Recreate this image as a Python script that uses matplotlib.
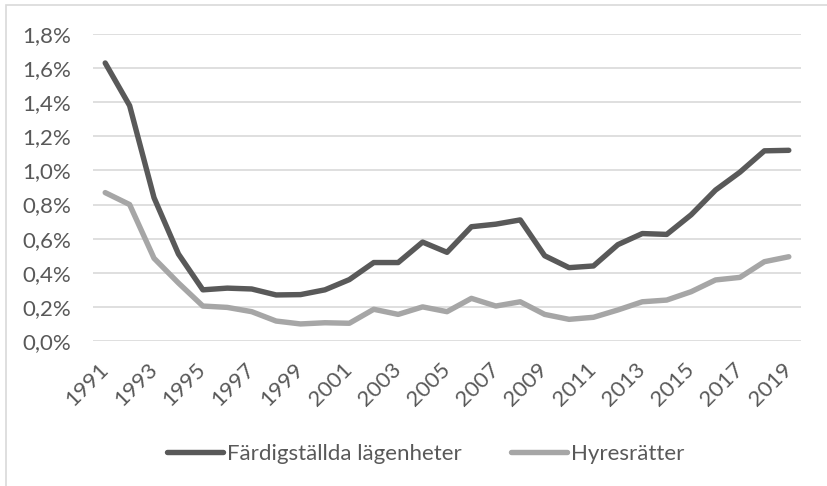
import matplotlib
matplotlib.use("Agg")
import matplotlib.pyplot as plt
from matplotlib.ticker import FuncFormatter
from matplotlib.patches import Rectangle

years = list(range(1991, 2020))
fardigstallda = [1.63, 1.38, 0.84, 0.51, 0.30, 0.31, 0.305, 0.27, 0.272, 0.30,
                 0.36, 0.46, 0.46, 0.58, 0.52, 0.67, 0.685, 0.71, 0.50, 0.43,
                 0.44, 0.565, 0.63, 0.625, 0.74, 0.885, 0.99, 1.115, 1.118]
hyresratter = [0.87, 0.80, 0.485, 0.34, 0.205, 0.197, 0.172, 0.117, 0.10, 0.107,
               0.104, 0.186, 0.156, 0.20, 0.172, 0.25, 0.205, 0.23, 0.156, 0.127,
               0.139, 0.182, 0.23, 0.24, 0.289, 0.358, 0.373, 0.465, 0.494]
series_names = ["Färdigställda lägenheter", "Hyresrätter"]
tick_years = years[::2]

plt.rcParams['font.family'] = ['Lato', 'DejaVu Sans']
txt = '#595959'

fig = plt.figure(figsize=(8.28, 4.86), dpi=100)
ax = fig.add_axes([93/828, 1 - 341/486, (801 - 93)/828, (341 - 34)/486])

ax.plot(years, fardigstallda, color='#595959', lw=3.9, solid_capstyle='round',
        solid_joinstyle='round', label=series_names[0])
ax.plot(years, hyresratter, color='#A6A6A6', lw=3.9, solid_capstyle='round',
        solid_joinstyle='round', label=series_names[1])

ax.set_xlim(years[0] - 0.5, years[-1] + 0.5)
ax.set_ylim(0, 1.8)
ax.set_yticks([i * 0.2 for i in range(10)])
ax.yaxis.set_major_formatter(FuncFormatter(lambda v, p: f"{v:.1f}%".replace('.', ',')))
ax.set_xticks(tick_years)
ax.set_xticklabels([str(y) for y in tick_years], rotation=45, ha='right',
                   rotation_mode='anchor', va='center')
ax.tick_params(axis='x', length=0, pad=18, labelsize=16, labelcolor=txt)
ax.tick_params(axis='y', length=0, pad=16, labelsize=16, labelcolor=txt)
ax.grid(axis='y', color='#D9D9D9', lw=1.2)
ax.set_axisbelow(True)
for s in ax.spines.values():
    s.set_visible(False)

fig.legend(loc='center', bbox_to_anchor=(426/828, 1 - 454/486), ncol=2, frameon=False,
           fontsize=16, labelcolor=txt, handlelength=2.5, handletextpad=0.2,
           columnspacing=2.2)

fig.patches.append(Rectangle((6/828, -0.1), 1.2, 1 - 5/486 + 0.1, transform=fig.transFigure,
                             fill=False, edgecolor='#D9D9D9', lw=1.2))

fig.savefig('out.png', dpi=100)
